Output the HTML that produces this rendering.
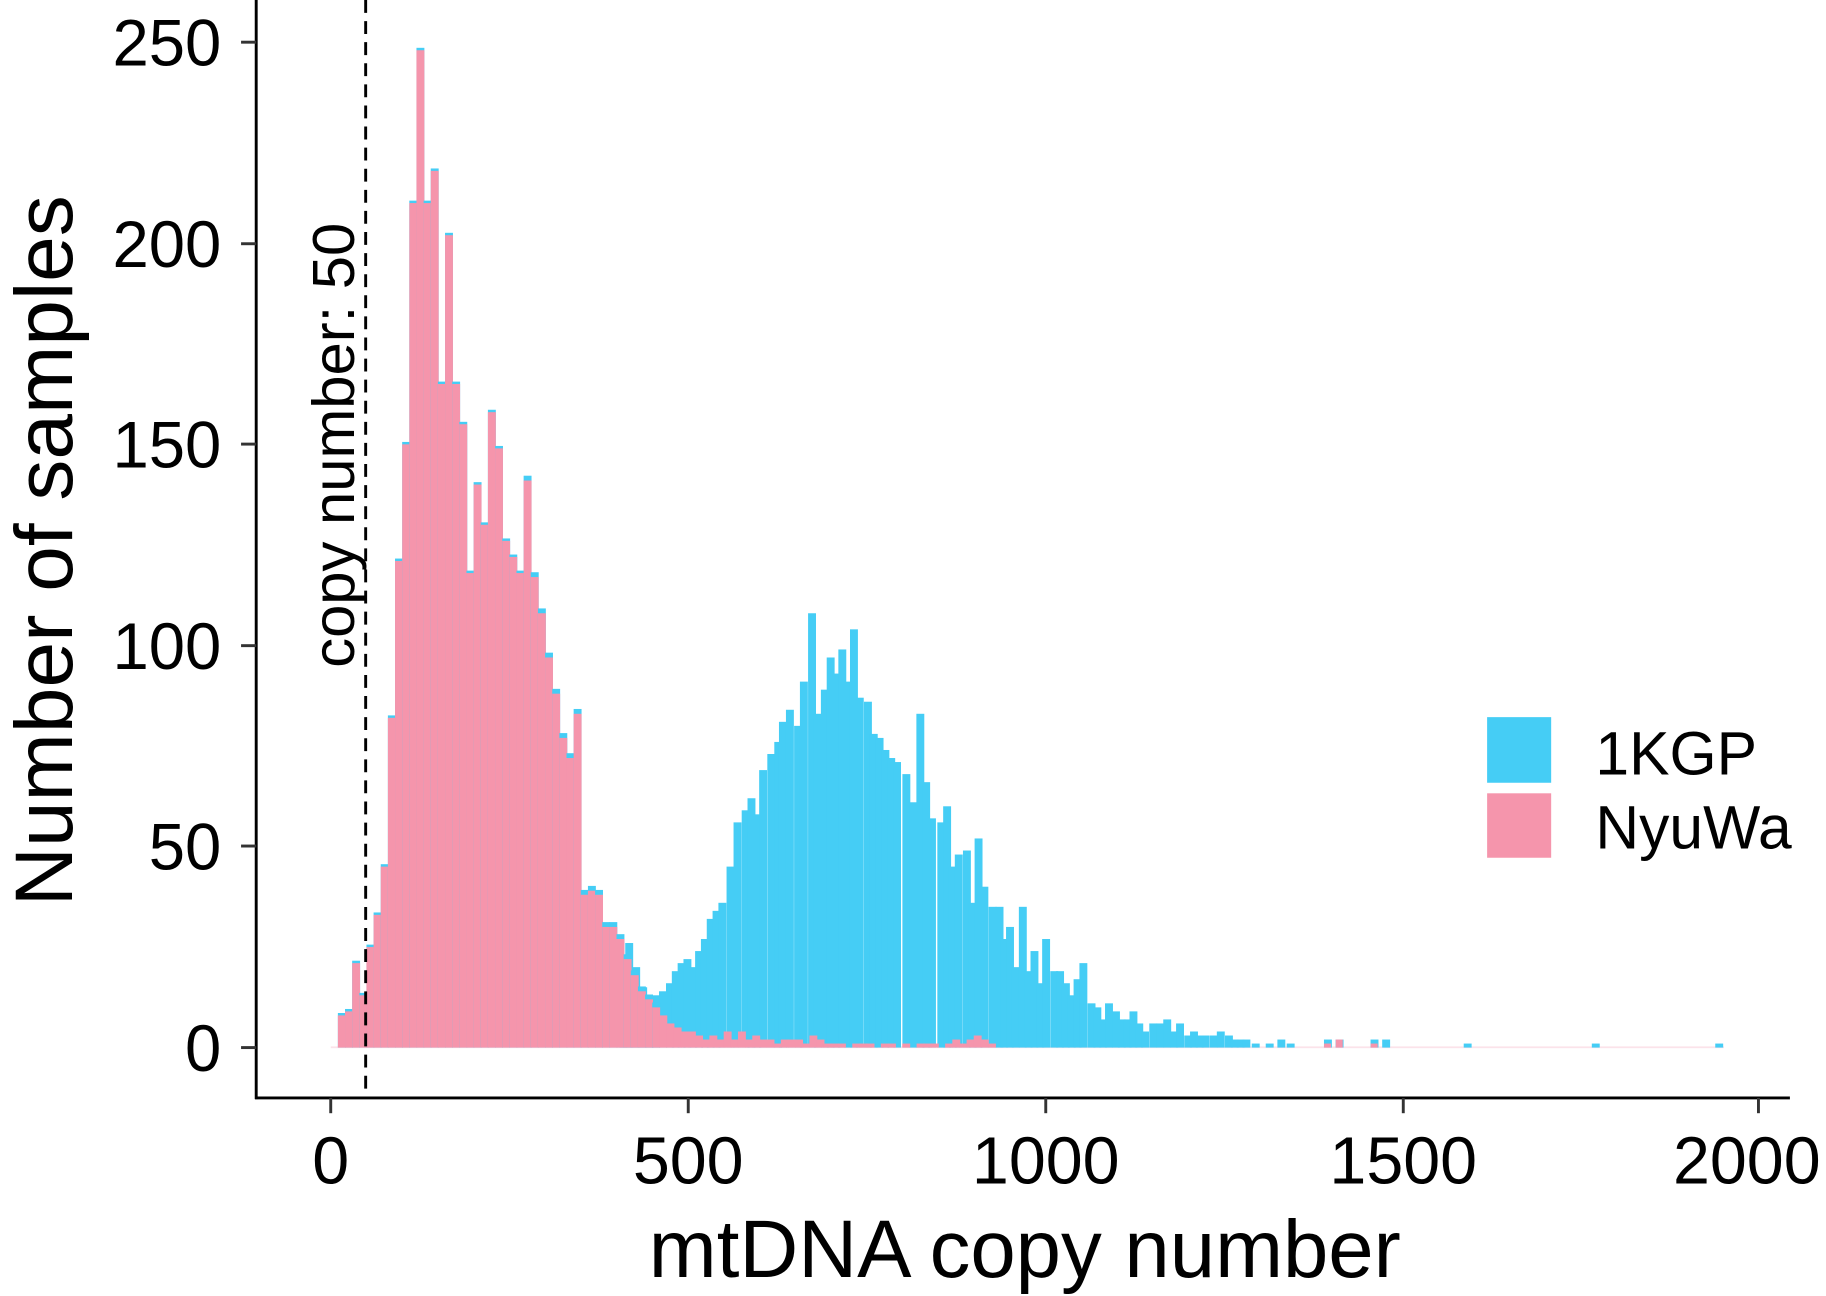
<!DOCTYPE html>
<html><head><style>html,body{margin:0;padding:0;background:#fff}svg{display:block}</style></head>
<body>
<svg id="s" width="1826" height="1296" viewBox="0 0 1568 1106" preserveAspectRatio="none" xmlns="http://www.w3.org/2000/svg" font-family="Liberation Sans, Arial, sans-serif">
<g id="bars"></g>
<line x1="314" y1="0" x2="314" y2="937" stroke="#000" stroke-width="2.5" stroke-dasharray="11,7"/>
<line x1="220" y1="0" x2="220" y2="938" stroke="#000" stroke-width="2.5"/>
<line x1="219" y1="937" x2="1537" y2="937" stroke="#000" stroke-width="2.5"/>
<g stroke="#333" stroke-width="2.5">
<line x1="207" y1="894" x2="220" y2="894"/><line x1="207" y1="722" x2="220" y2="722"/><line x1="207" y1="551" x2="220" y2="551"/><line x1="207" y1="379" x2="220" y2="379"/><line x1="207" y1="208" x2="220" y2="208"/><line x1="207" y1="36" x2="220" y2="36"/>
<line x1="284" y1="937" x2="284" y2="950"/><line x1="591" y1="937" x2="591" y2="950"/><line x1="898" y1="937" x2="898" y2="950"/><line x1="1205" y1="937" x2="1205" y2="950"/><line x1="1510" y1="937" x2="1510" y2="950"/>
</g>
<g font-size="56" fill="#000" text-anchor="end">
<text x="190" y="914">0</text><text x="190" y="742">50</text><text x="190" y="571">100</text><text x="190" y="399">150</text><text x="190" y="228">200</text><text x="190" y="56">250</text>
</g>
<g font-size="57" fill="#000" text-anchor="middle">
<text x="284" y="1010">0</text><text x="591" y="1010">500</text><text x="898" y="1010">1000</text><text x="1205" y="1010">1500</text><text x="1500" y="1010">2000</text>
</g>
<text x="880" y="1090" font-size="70" text-anchor="middle">mtDNA copy number</text>
<text transform="translate(62,470) rotate(-90)" font-size="70" text-anchor="middle">Number of samples</text>
<text transform="translate(304,380) rotate(-90)" font-size="51" text-anchor="middle">copy number: 50</text>
<rect x="1277" y="612" width="55" height="56" fill="#45CDF5"/>
<rect x="1277" y="677" width="55" height="55" fill="#F595AC"/>
<text x="1370" y="661" font-size="52">1KGP</text>
<text x="1370" y="724" font-size="52">NyuWa</text>
</svg>
<script>
var g=document.getElementById('bars'),NS='http://www.w3.org/2000/svg';
function X(v){return 284+0.6135*v}function Y(v){return 894-3.432*v}
function r(x,w,v,c){if(v<=0)return;var e=document.createElementNS(NS,'rect');e.setAttribute('x',x);e.setAttribute('width',w);e.setAttribute('y',Y(v));e.setAttribute('height',894-Y(v));e.setAttribute('fill',c);g.appendChild(e);}
var b=document.createElementNS(NS,'rect');b.setAttribute('x',X(0));b.setAttribute('y',893);b.setAttribute('width',X(1950)-X(0));b.setAttribute('height',1.5);b.setAttribute('fill','#fbe3ea');g.appendChild(b);
var blue=[[535,21],[540,26],[546,20],[552,15],[558,11],[563,13],[569,14],[575,16],[580,19],[585,21],[590,22],[595,20],[600,24],[605,27],[610,32],[615,34],[620,36],[627,45],[633,56],[640,59],[645,62],[650,58],[655,69],[662,73],[668,76],[672,81],[678,84],[685,80],[690,91],[697,108],[702,83],[708,89],[713,97],[718,93],[723,99],[728,91],[733,104],[738,87],[745,86],[750,78],[755,77],[760,74],[765,72],[770,71],[778,68],[784,61],[790,83],[795,66],[800,57],[808,56],[813,60],[818,45],[823,48],[830,49],[835,36],[840,52],[845,40],[852,35],[858,35],[862,27],[867,30],[872,20],[878,35],[883,19],[888,24],[893,16],[898,27],[905,19],[910,19],[915,16],[920,13],[925,17],[930,21],[937,11],[942,10],[947,7],[952,11],[958,9],[963,7],[968,7],[973,9],[978,6],[983,4],[990,6],[996,6],[1002,7],[1008,4],[1013,6],[1020,3],[1025,4],[1030,3],[1035,3],[1042,3],[1048,4],[1055,3],[1060,2],[1065,2],[1070,2],[1078,1],[1090,1],[1100,2],[1108,1],[1140,2],[1150,2],[1180,2],[1190,2],[1260,1],[1370,1],[1476,1]];
blue.forEach(function(p){r(p[0]-3.1,6.8,p[1],'#45CDF5')});
var pink=[8,9,21,13,25,33,45,82,121,150,210,248,210,218,165,202,165,155,118,140,130,158,149,126,122,118,141,117,108,97,88,77,72,83,38,39,38,30,30,27,22,18,14,12,10,8,6,5,4,4,3,2,3,2,4,2,4,2,3,2,2,1,2,2,2,1,3,2,1,1,1,0,1,1,1,0,1,1,0,1,0,1,1,1,0,1,2,1,2,3,2,1,0,0];
pink.forEach(function(v,i){var x0=X(10+i*10);if(i<45)r(x0,6.8,v+(i>25?1.2:0.6),'#45CDF5');r(x0,6.8,v,'#F595AC')});
[[1140,1],[1150,2],[1180,1]].forEach(function(p){r(p[0]-3,6,p[1],'#F595AC')});
</script>
</body></html>
